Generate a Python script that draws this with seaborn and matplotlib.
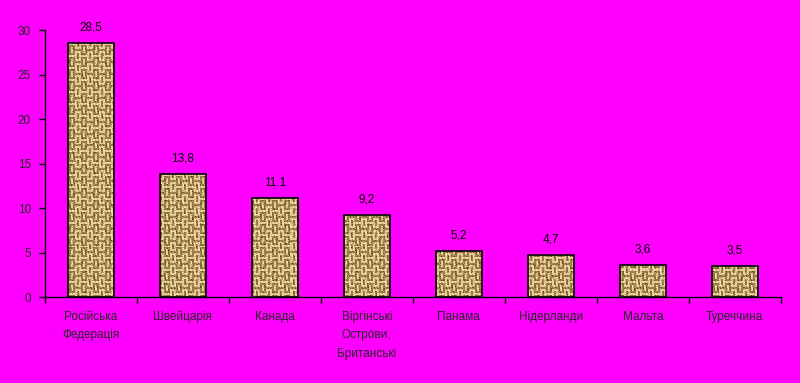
import numpy as np
import pandas as pd
import matplotlib
matplotlib.use('Agg')
import matplotlib.pyplot as plt
import seaborn as sns

countries = ['Російська\nФедерація', 'Швейцарія', 'Канада', 'Віргінські\nОстрови,\nБританські',
             'Панама', 'Нідерланди', 'Мальта', 'Туреччина']
values = [28.5, 13.8, 11.1, 9.2, 5.2, 4.7, 3.6, 3.5]
yticks = [0, 5, 10, 15, 20, 25, 30]

df = pd.DataFrame({'country': countries, 'value': values})

sns.set_style('ticks')
plt.rcParams['font.family'] = ['Liberation Sans', 'DejaVu Sans']

fig = plt.figure(figsize=(8, 3.83), dpi=100, facecolor='#ff00ff')
ax = fig.add_axes([0.056, 0.2245, 0.92, 0.697])
ax.set_facecolor('#ff00ff')

sns.barplot(data=df, x='country', y='value', width=0.5, color='#b89868',
            edgecolor='black', linewidth=1.2, ax=ax, zorder=2)

# woven burlap texture clipped to each bar
h, w = 270, 740
ii, jj = np.indices((h, w))
block = ((ii // 6) + (jj // 6)) % 2
stripe = np.where(block == 0, (ii // 2) % 2, (jj // 2) % 2)
shade = 0.35 + 0.5 * stripe
shade = shade + 0.2 * (((ii * 5 + jj * 3) % 9) < 2) - 0.3 * (((ii * 7 + jj * 11) % 13) < 2)
shade = shade - 0.15 * (((ii // 3) * 3 + (jj // 3) * 5) % 7 == 0)
shade = np.clip(shade, 0.0, 1.0)
light = np.array([0.99, 0.91, 0.68])
dark = np.array([0.40, 0.25, 0.08])
tex = dark + (light - dark) * shade[..., None]
xl, yl = (-0.5, len(countries) - 0.5), (0, 30)
for bar in ax.patches:
    im = ax.imshow(tex, extent=(xl[0], xl[1], yl[0], yl[1]), aspect='auto',
                   interpolation='nearest', zorder=2.5)
    im.set_clip_path(bar)
    bar.set_facecolor('none')
    bar.set_zorder(3)

ax.set_xlim(*xl)
ax.set_ylim(*yl)
ax.set_yticks(yticks)
ax.set_yticklabels([str(t) for t in yticks], fontsize=8.5)

ax.bar_label(ax.containers[0], labels=[str(v).replace('.', ',') for v in values],
             padding=7, fontsize=8.5, color='black')

ax.set_xticks(range(len(countries)))
ax.set_xticklabels(countries, fontsize=8.5, linespacing=1.7)
ax.set_xticks(np.arange(-0.5, len(countries)), minor=True)
ax.tick_params(axis='x', which='major', length=0, pad=10)
ax.tick_params(axis='x', which='minor', length=4, width=1, color='black')
ax.tick_params(axis='y', length=4, width=1, color='black', pad=6)

ax.set_xlabel('')
ax.set_ylabel('')
for s in ['top', 'right']:
    ax.spines[s].set_visible(False)
for s in ['left', 'bottom']:
    ax.spines[s].set_color('black')
    ax.spines[s].set_linewidth(1)

fig.savefig('out.png', dpi=100, facecolor='#ff00ff')
